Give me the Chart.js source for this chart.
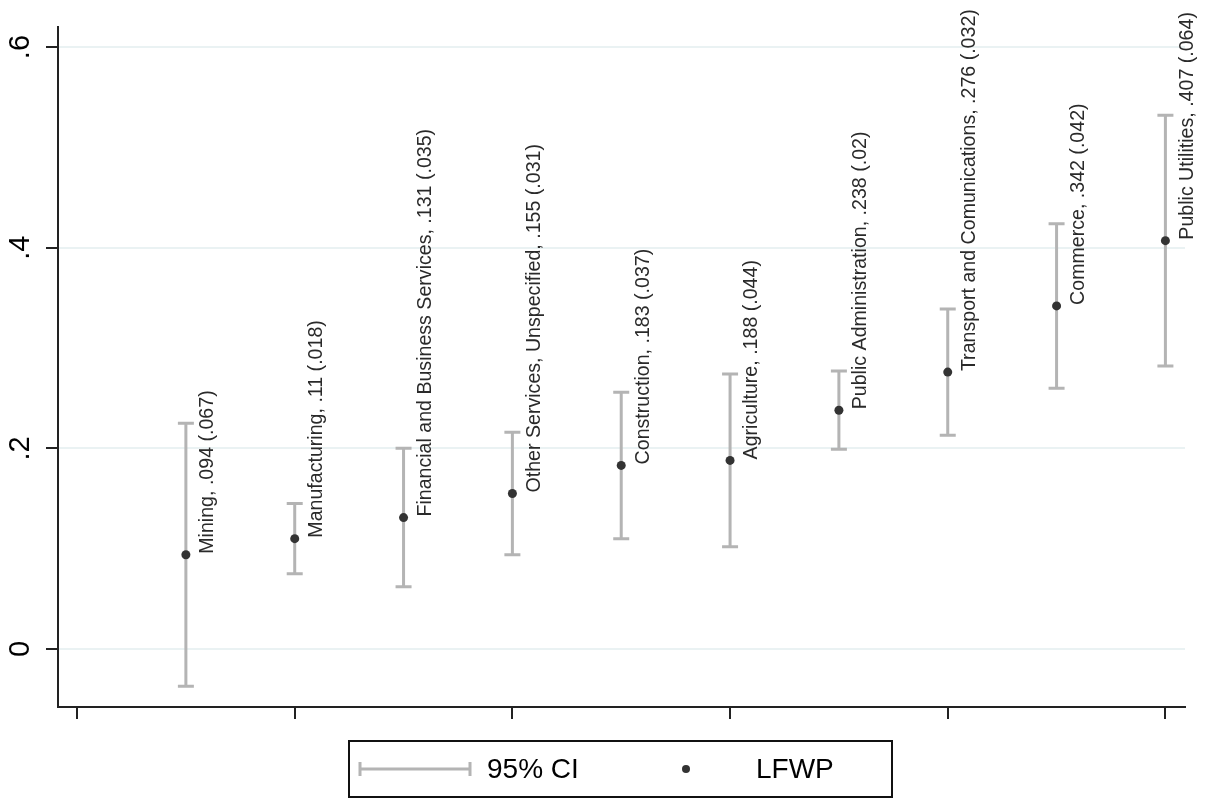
<!DOCTYPE html>
<html>
<head>
<meta charset="utf-8">
<script src="https://cdn.jsdelivr.net/npm/chart.js@4"></script>
<style>
  html, body { margin: 0; padding: 0; background: #fff; }
  canvas { display: block; }
</style>
</head>
<body>
<canvas id="chart" width="1206" height="798"></canvas>
<script>
const sectors = ['Mining', 'Manufacturing', 'Financial and Business Services', 'Other Services, Unspecified',
  'Construction', 'Agriculture', 'Public Administration', 'Transport and Comunications', 'Commerce', 'Public Utilities']
const estimates = [.094, .11, .131, .155, .183, .188, .238, .276, .342, .407]
const stdErrors = ['.067', '.018', '.035', '.031', '.037', '.044', '.02', '.032', '.042', '.064']
const estLabels = ['.094', '.11', '.131', '.155', '.183', '.188', '.238', '.276', '.342', '.407']
const ciLow = [-.037, .075, .062, .094, .110, .102, .199, .213, .260, .282]
const ciHigh = [.225, .145, .200, .216, .256, .274, .277, .339, .424, .532]
const yTicks = [0, .2, .4, .6]
const yTickLabels = ['0', '.2', '.4', '.6']
const xTicks = [0, 2, 4, 6, 8, 10]

const font = '"Liberation Sans", Arial, sans-serif'
const ciColor = '#b4b4b4'
const dotColor = '#333333'

const points = estimates.map((v, i) => ({ x: i + 1, y: v }))

// whiskers, point labels, y labels and the boxed legend
const extras = {
  id: 'extras',
  beforeDatasetsDraw(chart) {
    const { ctx, scales: { x, y } } = chart
    ctx.save()
    ctx.strokeStyle = ciColor
    ctx.lineWidth = 3
    ctx.lineCap = 'butt'
    estimates.forEach((v, i) => {
      const px = x.getPixelForValue(i + 1)
      const lo = y.getPixelForValue(ciLow[i])
      const hi = y.getPixelForValue(ciHigh[i])
      ctx.beginPath()
      ctx.moveTo(px, lo); ctx.lineTo(px, hi)
      ctx.moveTo(px - 8, lo); ctx.lineTo(px + 8, lo)
      ctx.moveTo(px - 8, hi); ctx.lineTo(px + 8, hi)
      ctx.stroke()
    })
    ctx.restore()
  },
  afterDraw(chart) {
    const { ctx, scales: { x, y } } = chart
    ctx.save()
    // labels next to each point
    ctx.fillStyle = '#2a2a2a'
    ctx.font = '19.6px ' + font
    ctx.textAlign = 'left'
    ctx.textBaseline = 'middle'
    estimates.forEach((v, i) => {
      const px = x.getPixelForValue(i + 1)
      const py = y.getPixelForValue(v)
      ctx.save()
      ctx.translate(px + 22, py - 1)
      ctx.rotate(-Math.PI / 2)
      ctx.fillText(sectors[i] + ', ' + estLabels[i] + ' (' + stdErrors[i] + ')', 0, 0)
      ctx.restore()
    })
    // rotated y tick labels
    ctx.fillStyle = '#000'
    ctx.font = '29px ' + font
    ctx.textAlign = 'center'
    ctx.textBaseline = 'middle'
    yTicks.forEach((v, i) => {
      ctx.save()
      ctx.translate(21, y.getPixelForValue(v))
      ctx.rotate(-Math.PI / 2)
      ctx.fillText(yTickLabels[i], 0, 0)
      ctx.restore()
    })
    // legend box
    ctx.strokeStyle = '#111'
    ctx.lineWidth = 2
    ctx.strokeRect(349, 741, 543, 56)
    const ly = 769
    ctx.strokeStyle = ciColor
    ctx.lineWidth = 3
    ctx.beginPath()
    ctx.moveTo(360, ly); ctx.lineTo(470, ly)
    ctx.moveTo(360, ly - 7); ctx.lineTo(360, ly + 7)
    ctx.moveTo(470, ly - 7); ctx.lineTo(470, ly + 7)
    ctx.stroke()
    ctx.fillStyle = dotColor
    ctx.beginPath()
    ctx.arc(686, ly, 4, 0, Math.PI * 2)
    ctx.fill()
    ctx.fillStyle = '#000'
    ctx.font = '28px ' + font
    ctx.textAlign = 'left'
    ctx.fillText('95% CI', 487, ly + 1)
    ctx.fillText('LFWP', 756, ly + 1)
    ctx.restore()
  }
}

new Chart(document.getElementById('chart'), {
  type: 'scatter',
  data: {
    datasets: [{
      label: 'LFWP',
      data: points,
      pointRadius: 4.5,
      pointHoverRadius: 4.5,
      pointBackgroundColor: dotColor,
      pointBorderWidth: 0
    }]
  },
  options: {
    responsive: false,
    animation: false,
    layout: { padding: { top: 27, right: 21, left: 0, bottom: 0 } },
    plugins: { legend: { display: false }, tooltip: { enabled: false } },
    scales: {
      x: {
        type: 'linear',
        min: -0.175,
        max: 10.18,
        afterBuildTicks(scale) { scale.ticks = xTicks.map(v => ({ value: v })) },
        afterFit(scale) { scale.height = 91 },
        ticks: { display: false },
        grid: { drawOnChartArea: false, tickLength: 12, tickColor: '#222', lineWidth: 2 },
        border: { color: '#222', width: 2 }
      },
      y: {
        min: -0.0578,
        max: 0.62,
        afterBuildTicks(scale) { scale.ticks = yTicks.map(v => ({ value: v })) },
        afterFit(scale) { scale.width = 58 },
        ticks: { display: false },
        grid: { color: '#eaf2f3', lineWidth: 2, tickLength: 12, tickColor: '#222', tickWidth: 2 },
        border: { color: '#222', width: 2 }
      }
    }
  },
  plugins: [extras]
})
</script>
</body>
</html>
